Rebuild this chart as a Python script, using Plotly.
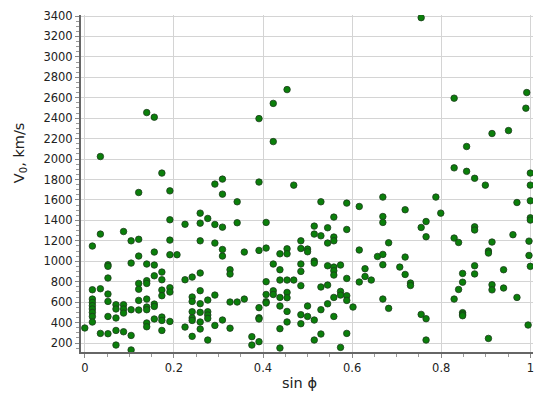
import plotly.graph_objects as go

# sin(phi) columns and the V0 values (km/s) read at each of them
columns = [0.000, 0.017, 0.035, 0.052, 0.070, 0.087, 0.104, 0.121, 0.139, 0.156,
           0.173, 0.191, 0.207, 0.225, 0.241, 0.259, 0.276, 0.292, 0.309, 0.326,
           0.342, 0.358, 0.375, 0.391, 0.407, 0.423, 0.438, 0.454, 0.469, 0.485,
           0.500, 0.515, 0.530, 0.545, 0.559, 0.574, 0.588, 0.602, 0.616, 0.629,
           0.643, 0.657, 0.669, 0.682, 0.707, 0.719, 0.731, 0.755, 0.766, 0.788,
           0.799, 0.829, 0.839, 0.848, 0.857, 0.875, 0.899, 0.906, 0.914, 0.940,
           0.951, 0.961, 0.970, 0.990, 0.992, 0.995, 0.997, 1.000]

speeds = [
    [347],
    [1149, 721, 630, 597, 565, 533, 499, 460, 405],
    [2025, 1266, 731, 294],
    [966, 950, 836, 679, 607, 460, 291],
    [575, 533, 445, 323, 180],
    [1291, 575, 533, 493, 310],
    [1200, 982, 526, 274, 132],
    [1673, 1215, 1051, 783, 726, 617, 523],
    [2455, 973, 810, 783, 630, 552, 526, 396, 359],
    [2410, 1090, 963, 858, 581, 558, 435],
    [1863, 894, 819, 718, 663, 454, 421, 323],
    [1689, 1406, 1207, 1064, 741, 699, 411],
    [1064],
    [1362, 819, 356],
    [845, 650, 607, 506, 445, 421, 265],
    [1471, 1373, 1200, 885, 712, 585, 500, 406, 337],
    [1419, 620, 506, 474, 441, 229],
    [1755, 1360, 1178, 669, 372],
    [1804, 1657, 1334, 1115, 1051, 425],
    [917, 875, 601, 345],
    [1582, 1377, 601],
    [1090, 630],
    [262, 180],
    [2396, 1775, 1106, 546, 447, 435, 213],
    [1380, 1129, 800, 675, 604, 592],
    [2545, 2171, 973, 711, 675],
    [1073, 917, 816, 646, 562, 340, 151],
    [2680, 1122, 1073, 816, 695, 643, 509, 406],
    [1745, 816],
    [1200, 1125, 973, 901, 761, 477, 389],
    [1119, 1093, 562, 460],
    [1344, 1266, 1002, 982, 425, 229],
    [1582, 1249, 748, 526, 288],
    [1328, 1178, 956, 767, 584],
    [1432, 1237, 1200, 943, 907, 865, 646, 460],
    [963, 705, 669, 157],
    [1569, 1311, 832, 663, 617, 294],
    [552],
    [1536, 1110, 797],
    [927, 851],
    [816],
    [1047],
    [1628, 1438, 1380, 1067, 966, 630],
    [1181, 539],
    [943],
    [1504, 1041, 871],
    [787, 763],
    [3384, 1331, 480],
    [1389, 1240, 438, 229],
    [1628],
    [1471],
    [2596, 1914, 1227, 630],
    [1184, 724],
    [881, 795, 497, 482, 467],
    [2123, 1880],
    [1812, 1337, 1306, 956, 876],
    [1745],
    [1100, 1080, 245],
    [2250, 1188, 770, 720],
    [917, 738],
    [2279],
    [1260],
    [1575, 646],
    [2498],
    [2651],
    [376],
    [1197, 1057],
    [1863, 1745, 1592, 1425, 1403, 950],
]

x = [c for c, vs in zip(columns, speeds) for v in vs]
y = [v for vs in speeds for v in vs]

fig = go.Figure(go.Scatter(
    x=x, y=y, mode="markers",
    marker=dict(size=6.5, color="#0a7f0a", line=dict(width=0.8, color="#1d3b1d")),
))

# page body has an 8px margin, so the figure is sized to fit what is left
fig.update_layout(
    width=542, height=389,
    margin=dict(l=73, r=17, t=7, b=45),
    plot_bgcolor="white", paper_bgcolor="white",
    showlegend=False,
    font=dict(family="DejaVu Sans", size=11.5, color="#222222"),
)

fig.update_xaxes(
    range=[-0.0085, 1.006], tick0=0, dtick=0.2, automargin=False,
    showgrid=True, gridcolor="#d4d4d4", gridwidth=1, zeroline=False,
    showline=True, linecolor="#666666", linewidth=2,
    ticks="outside", ticklen=4, tickcolor="#888888",
    minor=dict(dtick=0.05, ticks="outside", ticklen=3, tickcolor="#999999", showgrid=False),
)
fig.update_yaxes(
    range=[112, 3410], tick0=0, dtick=200, automargin=False,
    showgrid=True, gridcolor="#d4d4d4", gridwidth=1, zeroline=False,
    showline=True, linecolor="#666666", linewidth=2,
    ticks="outside", ticklen=4, tickcolor="#888888",
    minor=dict(dtick=50, ticks="outside", ticklen=3, tickcolor="#999999", showgrid=False),
)

fig.add_annotation(text="sin ϕ", xref="paper", yref="paper", x=0.484, y=-0.092,
                   xanchor="center", yanchor="middle",
                   showarrow=False, font=dict(size=14.5, color="#222222"))
fig.add_annotation(text="V<sub>0</sub>, km/s", xref="paper", yref="paper", x=-0.135, y=0.593,
                   xanchor="center", yanchor="middle", textangle=-90,
                   showarrow=False, font=dict(size=14.5, color="#222222"))

fig.write_html("out.html")
